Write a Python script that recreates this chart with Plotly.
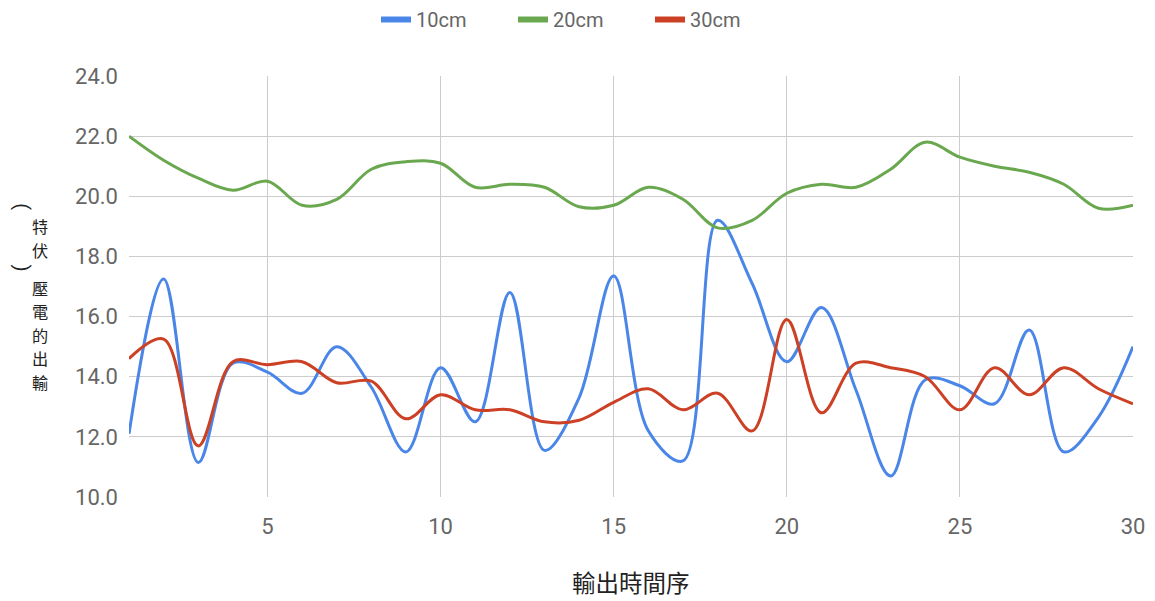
import plotly.graph_objects as go

# Sample index (輸出時間序)
seq = list(range(1, 31))

# Output voltage per depth
v10 = [12.1, 17.25, 11.15, 14.45, 14.15, 13.45, 15.0, 13.65, 11.5, 14.3,
       12.5, 16.8, 11.55, 13.3, 17.35, 12.2, 11.2, 19.2, 17.1, 14.5,
       16.3, 13.55, 10.7, 13.9, 13.7, 13.1, 15.55, 11.5, 12.65, 15.0]
v20 = [22.0, 21.2, 20.6, 20.2, 20.5, 19.7, 19.9, 20.9, 21.15, 21.1,
       20.3, 20.4, 20.3, 19.65, 19.7, 20.3, 19.9, 18.95, 19.2, 20.1,
       20.4, 20.3, 20.9, 21.8, 21.3, 21.0, 20.8, 20.4, 19.6, 19.7]
v30 = [14.6, 15.25, 11.7, 14.5, 14.4, 14.5, 13.8, 13.85, 12.6, 13.4,
       12.9, 12.9, 12.5, 12.55, 13.15, 13.6, 12.9, 13.45, 12.2, 15.9,
       12.8, 14.45, 14.3, 14.0, 12.9, 14.3, 13.4, 14.3, 13.6, 13.1]

series_names = ["10cm", "20cm", "30cm"]
series_colors = ["#4a86e8", "#6aa84f", "#cc4125"]

x_ticks = [5, 10, 15, 20, 25, 30]
y_ticks = [10, 12, 14, 16, 18, 20, 22, 24]

x_title = "輸出時間序"
y_title = "輸出的電壓(伏特)"

CJK = "'Noto Sans CJK TC', sans-serif"

fig = go.Figure()
for name, vals, color in zip(series_names, [v10, v20, v30], series_colors):
    fig.add_trace(go.Scatter(
        x=seq, y=vals, name=name, mode="lines", showlegend=False,
        line=dict(color=color, width=3, shape="spline", smoothing=1.0),
    ))
# Legend entries with thicker swatches
for name, color in zip(series_names, series_colors):
    fig.add_trace(go.Scatter(
        x=[None], y=[None], name=name, mode="lines",
        line=dict(color=color, width=6), hoverinfo="skip",
    ))

L, R, T, B = 129, 22, 76, 104
W, H = 1155, 601
plot_w = W - L - R
plot_h = H - T - B

fig.update_layout(
    width=W, height=H,
    margin=dict(l=L, r=R, t=T, b=B),
    paper_bgcolor="white", plot_bgcolor="white",
    font=dict(family="Roboto, sans-serif", size=22, color="#666666"),
    showlegend=True,
    legend=dict(orientation="h", xref="container", x=376 / W, xanchor="left",
                yref="container", y=1.0, yanchor="top",
                font=dict(size=20, color="#666666"),
                itemwidth=30, entrywidth=92, entrywidthmode="pixels",
                tracegroupgap=0),
    xaxis=dict(range=[1, 30], tickvals=x_ticks, showgrid=True, gridcolor="#cccccc",
               gridwidth=1, zeroline=False, showline=False, ticks="",
               ticklabelstandoff=14, automargin=False),
    yaxis=dict(range=[10, 24], tickvals=y_ticks, tickformat=".1f", showgrid=True,
               gridcolor="#cccccc", gridwidth=1, zeroline=False, showline=False,
               ticks="", ticklabelstandoff=10, automargin=False),
)

# Horizontal axis title
fig.add_annotation(
    text=x_title, showarrow=False, xref="paper", yref="paper",
    x=0.5, y=-(582 - (H - B)) / plot_h, xanchor="center", yanchor="middle",
    font=dict(family=CJK, size=23.5, color="#222222"),
)

# Vertical axis title: upright characters stacked bottom-to-top,
# brackets turned on their side in a narrow column to the left
y_pos = 382.0
prev_paren = False
for i, ch in enumerate(y_title):
    is_paren = ch in "()"
    if i > 0:
        y_pos -= 19.0 if (is_paren or prev_paren) else 23.6
    if is_paren:
        fig.add_annotation(
            text=ch, showarrow=False, xref="paper", yref="paper",
            x=(20 - L) / plot_w, y=(H - B - y_pos) / plot_h,
            xanchor="center", yanchor="middle", textangle=-90,
            font=dict(family="Roboto, sans-serif", size=20, color="#222222"),
        )
    else:
        fig.add_annotation(
            text=ch, showarrow=False, xref="paper", yref="paper",
            x=(40 - L) / plot_w, y=(H - B - y_pos) / plot_h,
            xanchor="center", yanchor="middle",
            font=dict(family=CJK, size=16.2, color="#222222"),
        )
    prev_paren = is_paren

fig.write_html("out.html")
